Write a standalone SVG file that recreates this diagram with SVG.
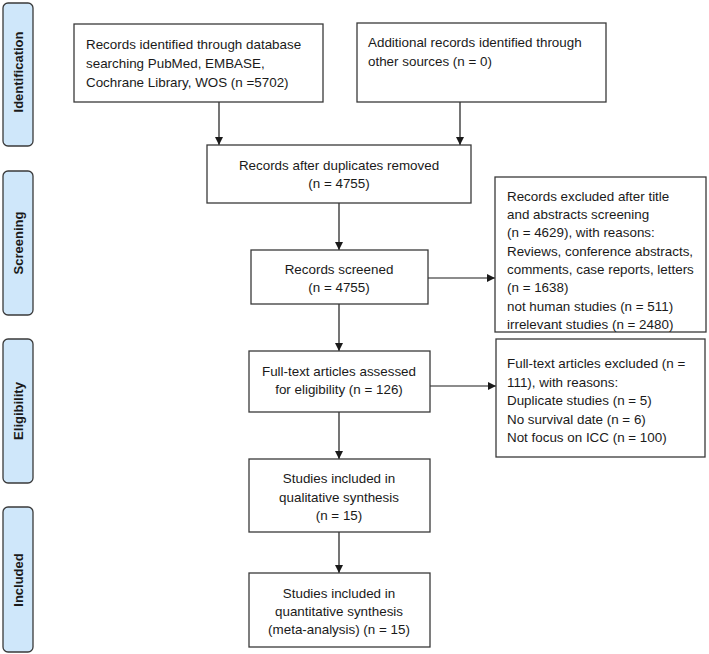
<svg xmlns="http://www.w3.org/2000/svg" width="709" height="654" viewBox="0 0 709 654">
<style>
.box{fill:#fff;stroke:#3a3a3a;stroke-width:1.3}
.side{fill:#cfe7fa;stroke:#3a3a3a;stroke-width:1.3}
.t{font-family:"Liberation Sans",Arial,sans-serif;font-size:13.4px;fill:#1a1a1a}
.c{text-anchor:middle}
.s{font-family:"Liberation Sans",Arial,sans-serif;font-size:13px;font-weight:bold;fill:#1a1a1a;text-anchor:middle}
.ln{stroke:#1a1a1a;stroke-width:1.2;fill:none;marker-end:url(#ah)}
</style>
<defs>
<marker id="ah" markerWidth="8" markerHeight="8" refX="8" refY="4" orient="auto" markerUnits="userSpaceOnUse">
<path d="M0,0 L8,4 L0,8 Z" fill="#1a1a1a"/>
</marker>
</defs>
<rect width="709" height="654" fill="#fff"/>
<g id="side-identification"><rect class="side" x="3" y="3" width="30" height="143" rx="5"/><text class="s" transform="translate(23,72) rotate(-90)">Identification</text></g>
<g id="side-screening"><rect class="side" x="3" y="171" width="30" height="144" rx="5"/><text class="s" transform="translate(23,243) rotate(-90)">Screening</text></g>
<g id="side-eligibility"><rect class="side" x="3" y="339" width="30" height="144" rx="5"/><text class="s" transform="translate(23,411) rotate(-90)">Eligibility</text></g>
<g id="side-included"><rect class="side" x="3" y="507" width="30" height="145" rx="5"/><text class="s" transform="translate(23,580) rotate(-90)">Included</text></g>

<g id="connectors">
<line class="ln" x1="219" y1="102" x2="219" y2="145"/>
<line class="ln" x1="460" y1="102" x2="460" y2="145"/>
<line class="ln" x1="339" y1="203" x2="339" y2="250"/>
<line class="ln" x1="428" y1="278" x2="495" y2="278"/>
<line class="ln" x1="339" y1="304" x2="339" y2="351"/>
<line class="ln" x1="430" y1="386" x2="496" y2="386"/>
<line class="ln" x1="339" y1="412" x2="339" y2="459"/>
<line class="ln" x1="339" y1="532" x2="339" y2="573"/>
</g>

<g id="box-database">
<rect class="box" x="74" y="24" width="249" height="78"/>
<text class="t" x="86" y="49">Records identified through database</text>
<text class="t" x="86" y="68">searching PubMed, EMBASE,</text>
<text class="t" x="86" y="87">Cochrane Library, WOS (n =5702)</text>
</g>
<g id="box-other">
<rect class="box" x="357" y="23" width="249" height="79"/>
<text class="t" x="368" y="47">Additional records identified through</text>
<text class="t" x="368" y="66">other sources (n = 0)</text>
</g>
<g id="box-duplicates">
<rect class="box" x="207" y="145" width="264" height="58"/>
<text class="t c" x="339" y="170">Records after duplicates removed</text>
<text class="t c" x="339" y="188">(n = 4755)</text>
</g>
<g id="box-screened">
<rect class="box" x="251" y="250" width="177" height="54"/>
<text class="t c" x="339" y="274">Records screened</text>
<text class="t c" x="339" y="292">(n = 4755)</text>
</g>
<g id="box-excluded1">
<rect class="box" x="495" y="177" width="211" height="155"/>
<text class="t" x="507" y="200.7">Records excluded after title</text>
<text class="t" x="507" y="219">and abstracts screening</text>
<text class="t" x="507" y="237.3">(n = 4629), with reasons:</text>
<text class="t" x="507" y="255.6">Reviews, conference abstracts,</text>
<text class="t" x="507" y="274">comments, case reports, letters</text>
<text class="t" x="507" y="292.3">(n = 1638)</text>
<text class="t" x="507" y="310.6">not human studies (n = 511)</text>
<text class="t" x="507" y="329">irrelevant studies (n = 2480)</text>
</g>
<g id="box-fulltext">
<rect class="box" x="249" y="351" width="181" height="61"/>
<text class="t c" x="339" y="376">Full-text articles assessed</text>
<text class="t c" x="339" y="394">for eligibility (n = 126)</text>
</g>
<g id="box-excluded2">
<rect class="box" x="496" y="339" width="209" height="118"/>
<text class="t" x="507" y="368">Full-text articles excluded (n =</text>
<text class="t" x="507" y="386.5">111), with reasons:</text>
<text class="t" x="507" y="405">Duplicate studies (n = 5)</text>
<text class="t" x="507" y="423.5">No survival date (n = 6)</text>
<text class="t" x="507" y="442">Not focus on ICC (n = 100)</text>
</g>
<g id="box-qualitative">
<rect class="box" x="249" y="459" width="181" height="73"/>
<text class="t c" x="339" y="483">Studies included in</text>
<text class="t c" x="339" y="502">qualitative synthesis</text>
<text class="t c" x="339" y="520">(n = 15)</text>
</g>
<g id="box-quantitative">
<rect class="box" x="249" y="573" width="181" height="74"/>
<text class="t c" x="339" y="598">Studies included in</text>
<text class="t c" x="339" y="616">quantitative synthesis</text>
<text class="t c" x="339" y="634">(meta-analysis) (n = 15)</text>
</g>
</svg>
